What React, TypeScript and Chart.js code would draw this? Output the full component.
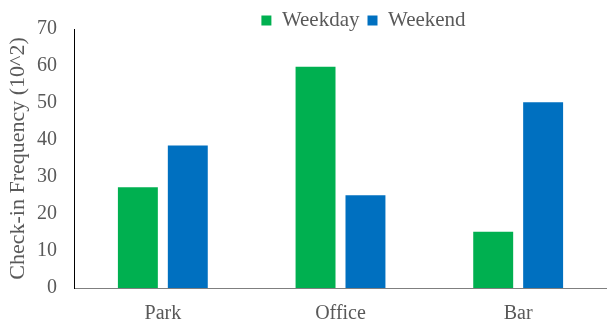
import React, { useEffect, useRef } from "react";
import { Chart, registerables } from "chart.js";

Chart.register(...registerables);

const categories = ["Park", "Office", "Bar"];
const weekday = [27.2, 59.8, 15.2];
const weekend = [38.5, 25.1, 50.2];
const seriesNames = ["Weekday", "Weekend"];
const yTitle = "Check-in Frequency (10^2)";

const FONT = "'Liberation Serif', 'Times New Roman', serif";
const TEXT = "#595959";

const shiftLegend = {
  id: "shiftLegend",
  afterLayout(chart: any) {
    const lg = chart.legend;
    if (!lg) return;
    const dx = 60;
    const dy = 12;
    lg.left += dx;
    lg.right += dx;
    lg.top += dy;
    lg.bottom += dy;
  },
};

export default function App() {
  const ref = useRef<HTMLCanvasElement | null>(null);
  useEffect(() => {
    if (!ref.current) return;
    const chart = new Chart(ref.current, {
      type: "bar",
      data: {
        labels: categories,
        datasets: [
          { label: seriesNames[0], data: weekday, backgroundColor: "#00B050", barPercentage: 0.8, categoryPercentage: 0.562 },
          { label: seriesNames[1], data: weekend, backgroundColor: "#0070C0", barPercentage: 0.8, categoryPercentage: 0.562 },
        ],
      },
      options: {
        animation: false,
        responsive: true,
        maintainAspectRatio: false,
        layout: { padding: { top: -11, left: 0, right: 0, bottom: 0 } },
        plugins: {
          tooltip: { enabled: false },
          legend: {
            position: "top",
            labels: {
              boxWidth: 10,
              boxHeight: 10,
              padding: 8,
              color: TEXT,
              font: { family: FONT, size: 21 },
            },
          },
        },
        scales: {
          x: {
            grid: { display: false, drawTicks: false },
            border: { display: true, color: "#7f7f7f", width: 1 },
            ticks: { color: TEXT, font: { family: FONT, size: 20 }, padding: 14 },
            afterFit(scale: any) {
              scale.height = 34;
            },
          },
          y: {
            min: 0,
            max: 70,
            grid: { display: false, drawTicks: false },
            border: { display: true, color: "#000000", width: 1 },
            ticks: { stepSize: 10, color: TEXT, font: { family: FONT, size: 20 }, padding: 17 },
            title: {
              display: true,
              text: yTitle,
              color: TEXT,
              font: { family: FONT, size: 22 },
              padding: { top: 5, bottom: 0 },
            },
            afterFit(scale: any) {
              scale.width = 74;
            },
          },
        },
      },
      plugins: [shiftLegend],
    });
    return () => chart.destroy();
  }, []);
  return (
    <div style={{ position: "fixed", left: 0, top: 0, width: 607, height: 322, background: "#fff" }}>
      <canvas ref={ref} style={{ width: "100%", height: "100%" }} />
    </div>
  );
}
